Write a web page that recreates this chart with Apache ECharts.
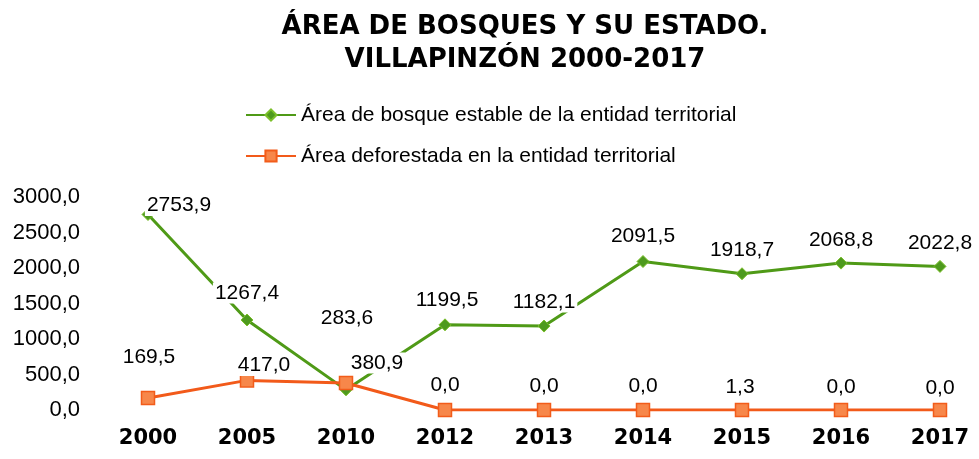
<!DOCTYPE html>
<html>
<head>
<meta charset="utf-8">
<script src="https://cdn.jsdelivr.net/npm/echarts@6/dist/echarts.min.js"></script>
<style>html,body{margin:0;padding:0;background:#fff}#c{width:979px;height:459px}</style>
</head>
<body>
<div id="c"></div>
<script>
const titleLines = ['ÁREA DE BOSQUES Y SU ESTADO.', 'VILLAPINZÓN 2000-2017'];
const categories = ['2000', '2005', '2010', '2012', '2013', '2014', '2015', '2016', '2017'];
const seriesNames = ['Área de bosque estable de la entidad territorial', 'Área deforestada en la entidad territorial'];
const bosqueEstable = [2753.9, 1267.4, 283.6, 1199.5, 1182.1, 2091.5, 1918.7, 2068.8, 2022.8];
const deforestada = [169.5, 417.0, 380.9, 0.0, 0.0, 0.0, 1.3, 0.0, 0.0];
const yTicks = [0, 500, 1000, 1500, 2000, 2500, 3000];

// label placement (style, not data)
const greenLabelShift = [[31,-9],[0,-27],[1,-72],[2,-25],[0,-24],[0,-25],[0,-24],[0,-23],[0,-23]];
const orangeLabelShift = [[1,-41],[17,-15],[31,-20],[0,-25],[0,-24],[0,-24],[-2,-23],[0,-23],[0,-22]];

const fmt = v => Number(v).toFixed(1).replace('.', ',');
const labelBase = {
  show: true, position: 'inside', color: '#000', fontSize: 21,
  fontFamily: 'Liberation Sans, Arial, sans-serif',
  backgroundColor: '#fff', padding: [0, 2], textBorderWidth: 0,
  formatter: p => fmt(p.value)
};
const mk = (vals, shifts) => vals.map((v, i) => ({ value: v, label: { offset: shifts[i] } }));

const chart = echarts.init(document.getElementById('c'), null, { renderer: 'canvas' });
chart.setOption({
  animation: false,
  backgroundColor: '#fff',
  title: {
    text: titleLines.join('\n'),
    left: 520, top: 6, textAlign: 'center',
    textStyle: { fontFamily: 'DejaVu Sans', fontWeight: 'bold', fontSize: 26, lineHeight: 33, color: '#000' }
  },
  legend: {
    orient: 'vertical', left: 245, top: 103, padding: 0, itemWidth: 50, itemHeight: 14, itemGap: 17,
    textStyle: { fontFamily: 'Liberation Sans, Arial, sans-serif', fontSize: 21, lineHeight: 24, color: '#000' },
    data: seriesNames
  },
  grid: { left: 148, right: 39, top: 197, bottom: 49, containLabel: false },
  xAxis: {
    type: 'category', data: categories, boundaryGap: false,
    axisLine: { show: false }, axisTick: { show: false }, splitLine: { show: false },
    axisLabel: { margin: 18, fontFamily: 'DejaVu Sans', fontWeight: 'bold', fontSize: 21, color: '#000' }
  },
  yAxis: {
    type: 'value', min: yTicks[0], max: yTicks[yTicks.length - 1], interval: 500,
    axisLine: { show: false }, axisTick: { show: false }, splitLine: { show: false },
    axisLabel: { margin: 68, fontFamily: 'Liberation Sans, Arial, sans-serif', fontSize: 22, color: '#000', formatter: fmt }
  },
  series: [
    {
      name: seriesNames[0], type: 'line', data: mk(bosqueEstable, greenLabelShift),
      symbol: 'diamond', symbolSize: 12, showAllSymbol: true,
      lineStyle: { color: '#4f9a17', width: 3 },
      itemStyle: { color: '#4e9a1e', borderColor: '#7bbf2a', borderWidth: 1 },
      label: labelBase
    },
    {
      name: seriesNames[1], type: 'line', data: mk(deforestada, orangeLabelShift),
      symbol: 'rect', symbolSize: 13, showAllSymbol: true,
      lineStyle: { color: '#f25a1a', width: 3 },
      itemStyle: { color: '#f7874a', borderColor: '#f25c1a', borderWidth: 1.5 },
      label: labelBase
    }
  ]
});
</script>
</body>
</html>
